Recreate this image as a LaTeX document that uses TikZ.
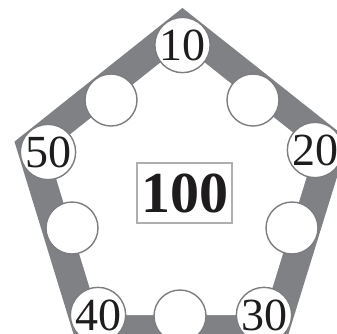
\documentclass[tikz,border=0pt]{standalone}
\usepackage{fontspec}
\setmainfont{Liberation Serif}
\definecolor{bandgray}{RGB}{128,129,132}
\definecolor{circgray}{RGB}{125,125,128}
\definecolor{boxgray}{RGB}{175,175,178}
\definecolor{txt}{RGB}{30,28,28}
\begin{document}
\begin{tikzpicture}[x=1pt,y=-1pt,
  ring/.style={circle, draw=circgray, line width=1.4pt, fill=white, minimum size=52pt, inner sep=0pt, text=txt, font=\fontsize{46}{46}\selectfont},
  totalbox/.style={draw=boxgray, line width=1.3pt, minimum width=95pt, minimum height=60pt, inner sep=0pt, text=txt, font=\fontsize{58}{58}\selectfont\bfseries}
]
\useasboundingbox (0,0) rectangle (337,333);
\coordinate (pT) at (182.5,45);
\coordinate (pR) at (315,150);
\coordinate (pBR) at (264,315);
\coordinate (pBL) at (98,315);
\coordinate (pL) at (48,152);
\draw[bandgray, line width=58pt, line join=miter] (pT) -- (pR) -- (pBR) -- (pBL) -- (pL) -- cycle;
\fill[white] (pT) -- (pR) -- (pBR) -- (pBL) -- (pL) -- cycle;
\node[totalbox] (total) at (184.5,193) {100};
\node[ring] (c10) at (pT) {10};
\node[ring] (c20) at (pR) {20};
\node[ring] (c30) at (pBR) {30};
\node[ring] (c40) at (pBL) {40};
\node[ring] (c50) at (pL) {50};
\node[ring] (mTL) at (111,100) {};
\node[ring] (mTR) at (253,100) {};
\node[ring] (mR) at (292,228) {};
\node[ring] (mB) at (180,316) {};
\node[ring] (mL) at (72,228) {};
\end{tikzpicture}
\end{document}
